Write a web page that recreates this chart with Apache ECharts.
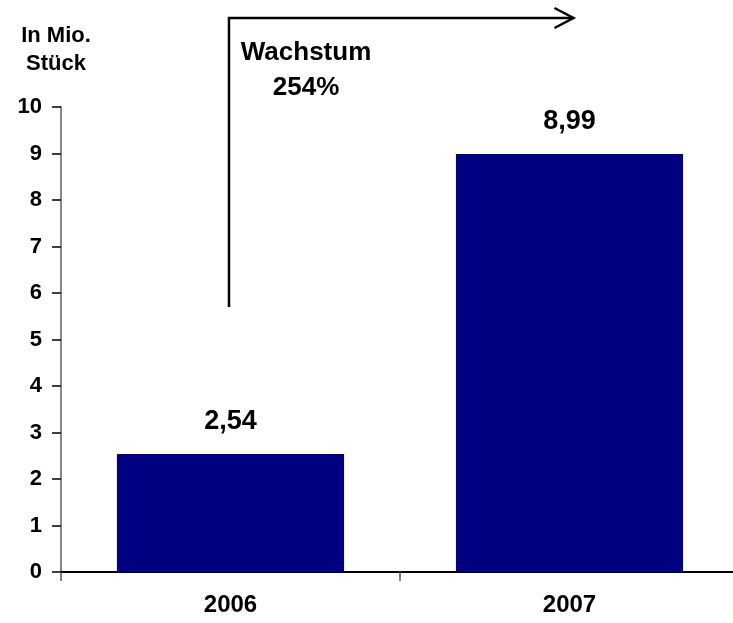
<!DOCTYPE html>
<html>
<head>
<meta charset="utf-8">
<script src="https://cdn.jsdelivr.net/npm/echarts@6/dist/echarts.min.js"></script>
<style>html,body{margin:0;padding:0;background:#fff;overflow:hidden;width:733px;height:623px}#c{width:740px;height:623px}</style>
</head>
<body>
<div id="c"></div>
<script>
const categories = ['2006', '2007'];
const values = [2.54, 8.99];
const yTicks = [0, 1, 2, 3, 4, 5, 6, 7, 8, 9, 10];
const unitLabel = 'In Mio.\nStück';
const growthLabel = 'Wachstum\n254%';
const arrowStartValue = 5.7;

const FONT = 'Arial, "Liberation Sans", sans-serif';
const chart = echarts.init(document.getElementById('c'), null, {renderer: 'canvas'});
chart.setOption({
  animation: false,
  backgroundColor: '#ffffff',
  title: {
    text: unitLabel,
    left: 51, top: 17, textAlign: 'center',
    textStyle: {fontFamily: FONT, fontWeight: 'bold', fontSize: 22, lineHeight: 28, color: '#000'}
  },
  grid: {left: 61, top: 107, width: 678, bottom: 51, containLabel: false},
  xAxis: {
    type: 'category',
    data: categories,
    axisLine: {lineStyle: {color: '#000', width: 2}},
    axisTick: {show: true, alignWithLabel: false, length: 9, lineStyle: {color: '#555', width: 1.5}},
    axisLabel: {fontFamily: FONT, fontWeight: 'bold', fontSize: 24, color: '#000', margin: 21}
  },
  yAxis: {
    type: 'value',
    min: yTicks[0], max: yTicks[yTicks.length - 1], interval: 1,
    splitLine: {show: false},
    axisLine: {show: true, lineStyle: {color: '#888', width: 2}},
    axisTick: {show: true, length: 9, lineStyle: {color: '#000', width: 1.5}},
    axisLabel: {fontFamily: FONT, fontWeight: 'bold', fontSize: 22, color: '#000', margin: 19}
  },
  series: [{
    type: 'bar',
    data: values,
    barWidth: '67%',
    itemStyle: {color: '#000080'},
    label: {
      show: true, position: 'top', distance: 19,
      fontFamily: FONT, fontWeight: 'bold', fontSize: 27, color: '#000',
      formatter: p => p.value.toFixed(2).replace('.', ',')
    }
  }]
});

const x0 = chart.convertToPixel({xAxisIndex: 0}, categories[0]) - 1.5;
const x1 = chart.convertToPixel({xAxisIndex: 0}, categories[1]) + 4;
const yBottom = chart.convertToPixel({yAxisIndex: 0}, arrowStartValue);
const yTop = 18;
chart.setOption({
  graphic: [
    {type: 'polyline', shape: {points: [[x0, yBottom], [x0, yTop], [x1, yTop]]},
     style: {stroke: '#000', lineWidth: 2.5, fill: null}},
    {type: 'polyline', shape: {points: [[x1 - 19, yTop - 10], [x1, yTop], [x1 - 19, yTop + 10]]},
     style: {stroke: '#000', lineWidth: 2.5, fill: null}},
    {type: 'text', x: 306, y: 35,
     style: {text: growthLabel, font: 'bold 26px ' + FONT, fill: '#000', textAlign: 'center', lineHeight: 35}}
  ]
});
</script>
</body>
</html>
